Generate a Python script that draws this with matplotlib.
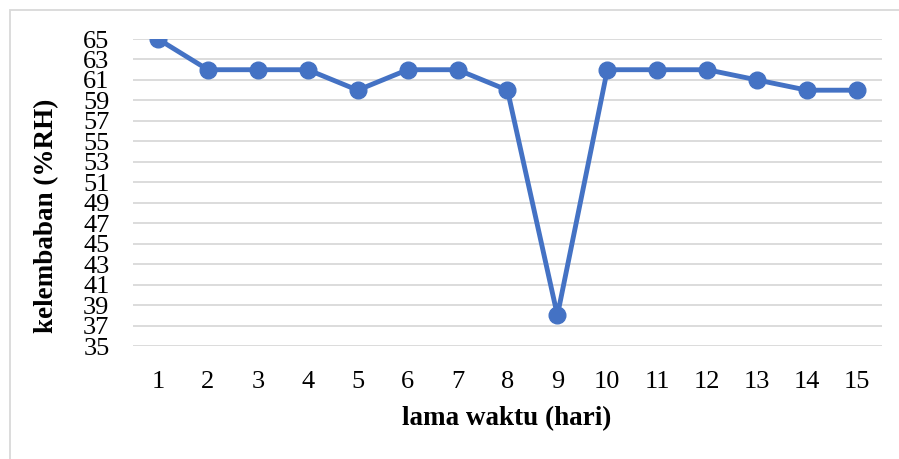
import matplotlib.pyplot as plt
from matplotlib.patches import Rectangle

days = list(range(1, 16))
humidity = [65, 62, 62, 62, 60, 62, 62, 60, 38, 62, 62, 62, 61, 60, 60]
y_ticks = list(range(35, 66, 2))

plt.rcParams['font.family'] = ['Liberation Serif', 'DejaVu Serif']

fig = plt.figure(figsize=(8.99, 4.59), dpi=100)
ax = fig.add_axes([0.148, 0.246, 0.833, 0.669])

ax.plot(days, humidity, color='#4472C4', linewidth=3.5, marker='o',
        markersize=12, zorder=3)

ax.set_xlim(0.5, 15.5)
ax.set_ylim(35, 65)
ax.set_xticks(days)
ax.set_yticks(y_ticks)
ax.tick_params(axis='both', length=0, labelsize=19)
ax.tick_params(axis='y', pad=17)
ax.tick_params(axis='x', pad=18)
ax.yaxis.grid(True, color='#D9D9D9', linewidth=1.3)
ax.set_axisbelow(True)
for s in ax.spines.values():
    s.set_visible(False)

fig.text(0.564, 0.088, 'lama waktu (hari)', ha='center', va='center',
         fontsize=19.5, fontweight='bold')
fig.text(0.052, 0.53, 'kelembaban (%RH)', ha='center', va='center',
         rotation=90, fontsize=19.5, fontweight='bold')

# chart border (only top/left visible in crop)
fig.patches.append(Rectangle((10 / 899, -0.1), 1.2, 1 - 10 / 459 + 0.1,
                             transform=fig.transFigure, fill=False,
                             edgecolor='#D9D9D9', linewidth=1.3))

fig.savefig('out.png', dpi=100)
